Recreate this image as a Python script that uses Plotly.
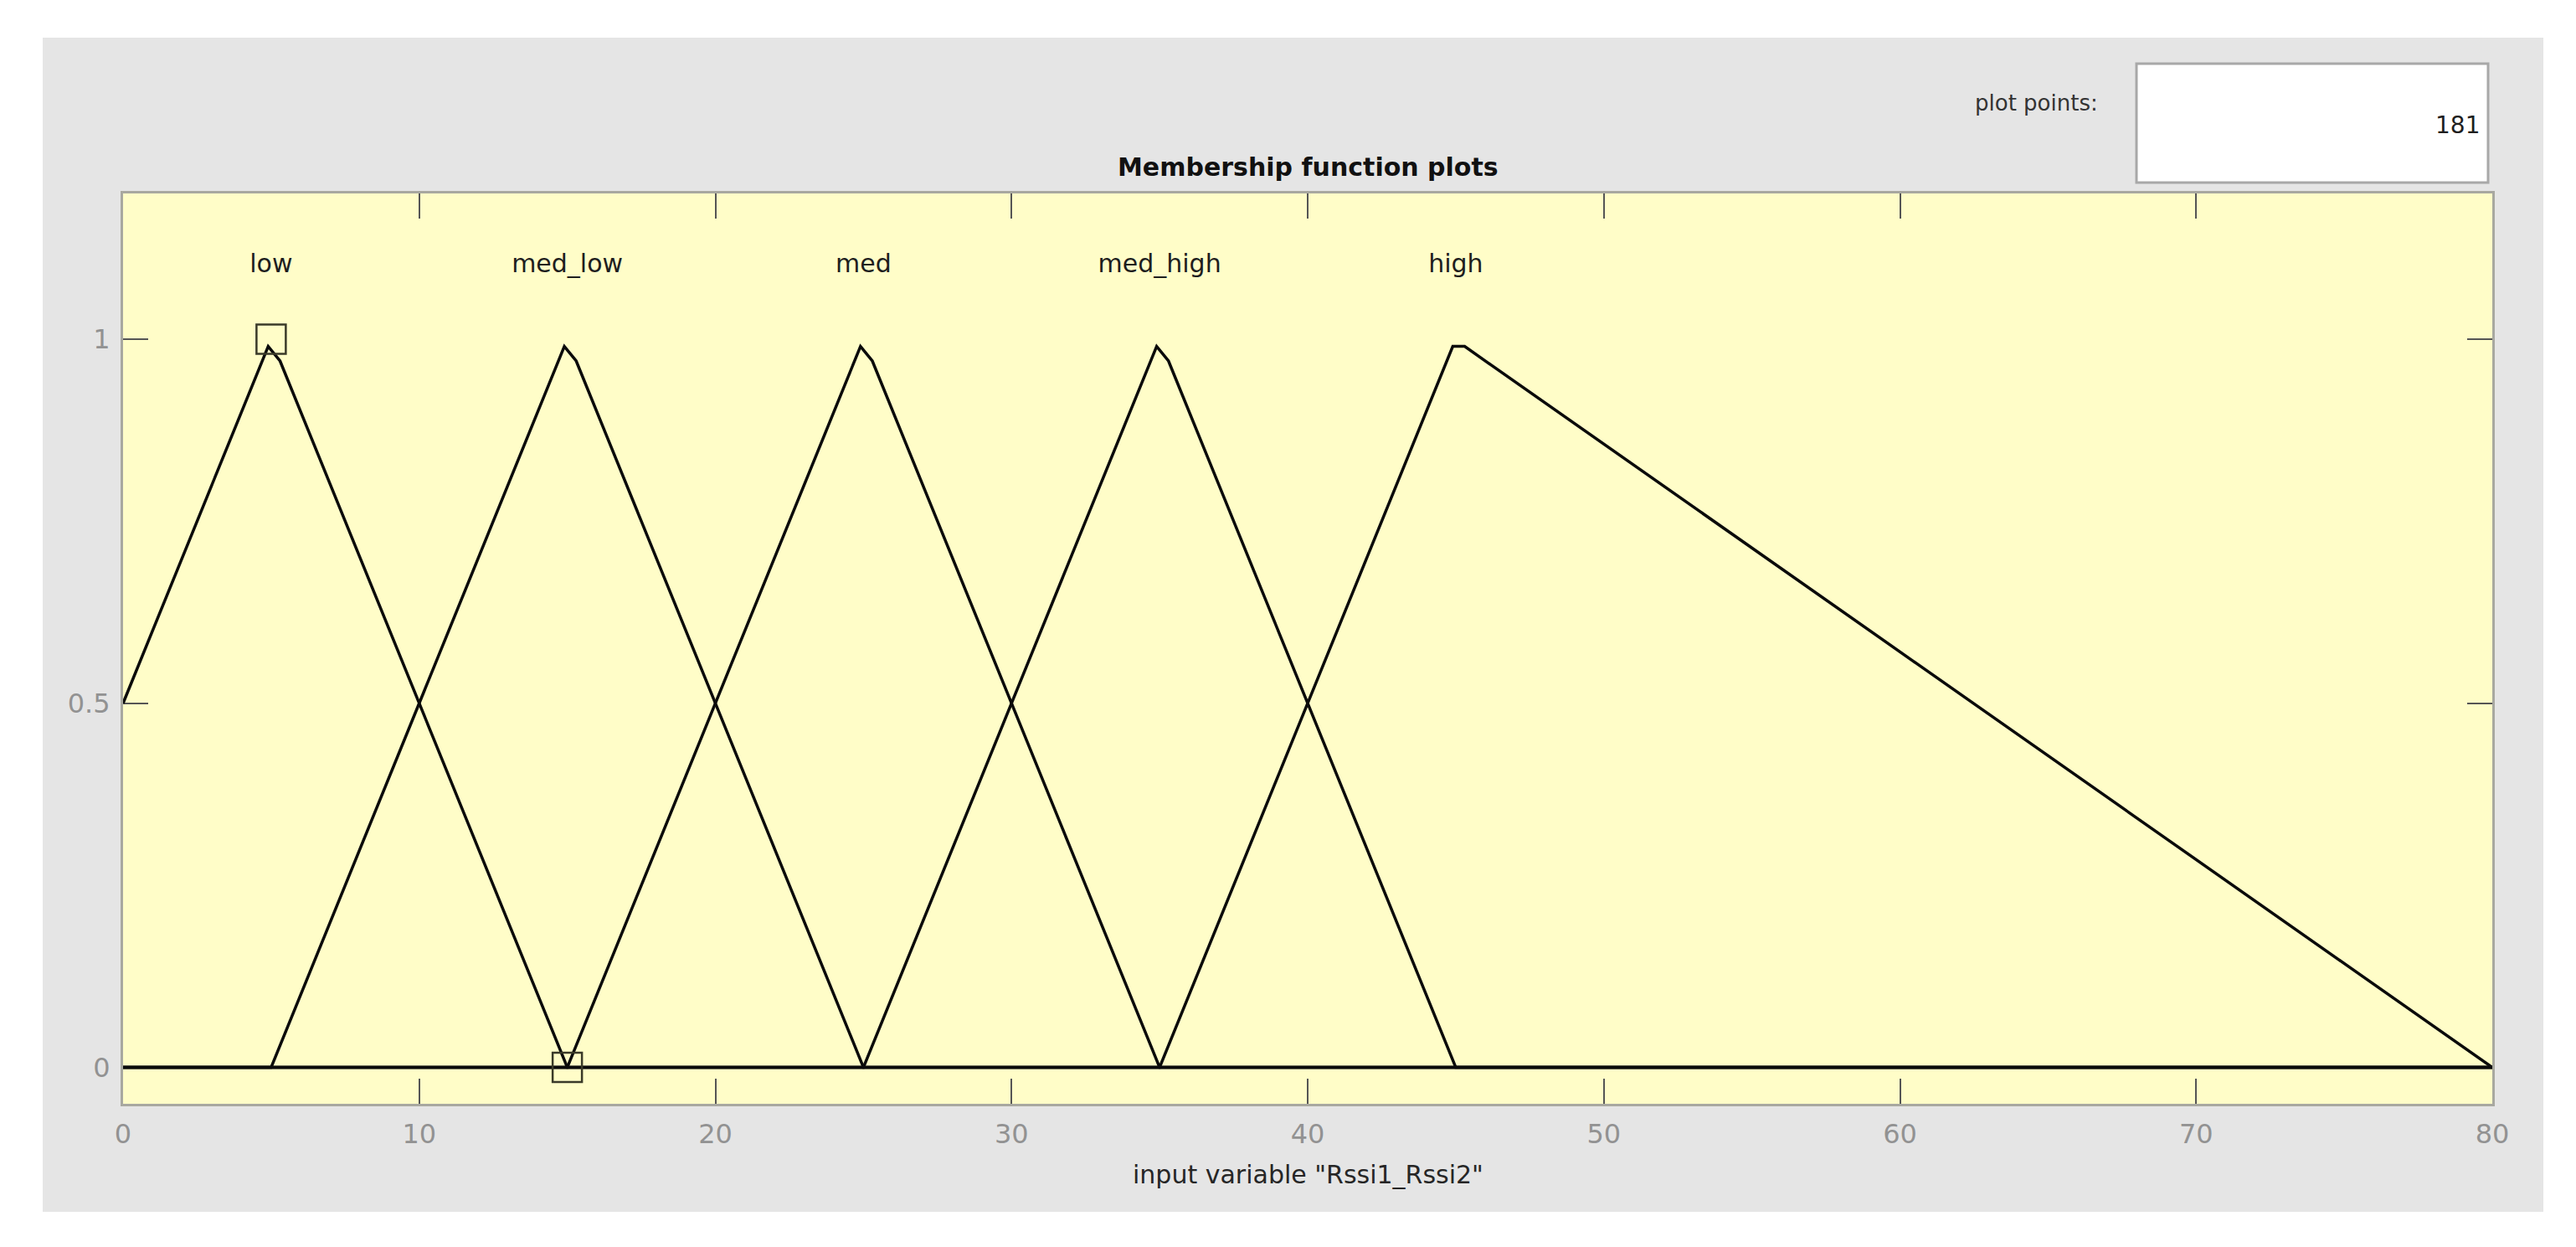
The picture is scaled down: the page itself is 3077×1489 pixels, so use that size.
#!/usr/bin/env python
# -*- coding: utf-8 -*-
"""
Membership function plot for input variable Rssi1_Rssi2 (fuzzy editor look)
"""

import plotly.graph_objects as go

# Membership functions, vertices (181 plot points)
MF_NAMES = ['low', 'med_low', 'med', 'med_high', 'high']
LOW_X = [0, 4.9, 5.3, 15, 80]
LOW_Y = [0.5, 0.99, 0.97, 0, 0]
MED_LOW_X = [0, 5, 14.9, 15.3, 25, 80]
MED_LOW_Y = [0, 0, 0.99, 0.97, 0, 0]
MED_X = [0, 15, 24.9, 25.3, 35, 80]
MED_Y = [0, 0, 0.99, 0.97, 0, 0]
MED_HIGH_X = [0, 25, 34.9, 35.3, 45, 80]
MED_HIGH_Y = [0, 0, 0.99, 0.97, 0, 0]
HIGH_X = [0, 35, 44.9, 45.3, 80]
HIGH_Y = [0, 0, 0.99, 0.99, 0]

# label positions (peaks) and the two selected points shown as squares
LABEL_X = [5, 15, 25, 35, 45]
LABEL_Y = [1.1, 1.1, 1.1, 1.1, 1.1]
SELECTED_X = [5, 15]
SELECTED_Y = [1, 0]

X_TICKS = [0, 10, 20, 30, 40, 50, 60, 70, 80]
Y_TICKS = [0, 0.5, 1]
Y_TICK_TEXT = ['0', '0.5', '1']
X_LABEL = 'input variable "Rssi1_Rssi2"'
TITLE = 'Membership function plots'
PLOT_POINTS = '181'

W, H = 3077, 1489
M_L, M_R, M_T, M_B = 147, 100, 231, 171
PLOT_W = W - M_L - M_R
PLOT_H = H - M_T - M_B


def px_x(px):
    return (px - M_L) / PLOT_W


def px_y(py):
    return (H - M_B - py) / PLOT_H


TICK_FONT = {'family': 'DejaVu Sans', 'size': 32, 'color': '#929292'}
TEXT_FONT = {'family': 'DejaVu Sans', 'size': 30, 'color': '#1e1e1e'}

fig = go.Figure()
for xs, ys in [(LOW_X, LOW_Y), (MED_LOW_X, MED_LOW_Y), (MED_X, MED_Y),
               (MED_HIGH_X, MED_HIGH_Y), (HIGH_X, HIGH_Y)]:
    fig.add_trace(go.Scatter(x=xs, y=ys, mode='lines',
                             line={'color': '#0a0a0a', 'width': 3.5},
                             hoverinfo='skip', showlegend=False))

fig.add_trace(go.Scatter(x=LABEL_X, y=LABEL_Y, mode='text', text=MF_NAMES,
                         textfont=TEXT_FONT, textposition='middle center',
                         hoverinfo='skip', showlegend=False))
fig.add_trace(go.Scatter(x=SELECTED_X, y=SELECTED_Y, mode='markers',
                         marker={'symbol': 'square-open', 'size': 35,
                                 'color': '#3a3a28', 'line': {'width': 2.5}},
                         hoverinfo='skip', showlegend=False))

shapes = [
    # grey figure panel
    dict(type='rect', xref='paper', yref='paper', layer='below',
         x0=px_x(51), x1=px_x(3038), y0=px_y(1447), y1=px_y(45),
         fillcolor='#e5e5e5', line={'width': 0}),
    # yellow axes background
    dict(type='rect', xref='paper', yref='paper', layer='below',
         x0=0, x1=1, y0=0, y1=1, fillcolor='#fffdc8', line={'width': 0}),
    # "plot points" edit box
    dict(type='rect', xref='paper', yref='paper', layer='below',
         x0=px_x(2552), x1=px_x(2972), y0=px_y(218), y1=px_y(76),
         fillcolor='white', line={'color': '#a8a8a8', 'width': 3}),
]

annotations = [
    dict(text=f'<b>{TITLE}</b>', xref='paper', yref='paper', x=0.5, y=px_y(200),
         showarrow=False, xanchor='center', yanchor='middle',
         font={'family': 'DejaVu Sans', 'size': 30, 'color': '#111111'}),
    dict(text=X_LABEL, xref='paper', yref='paper', x=0.5, y=px_y(1402),
         showarrow=False, xanchor='center', yanchor='middle',
         font={'family': 'DejaVu Sans', 'size': 30, 'color': '#262626'}),
    dict(text='plot points:', xref='paper', yref='paper', x=px_x(2508), y=px_y(123),
         showarrow=False, xanchor='right', yanchor='middle',
         font={'family': 'DejaVu Sans', 'size': 26, 'color': '#333333'}),
    dict(text=PLOT_POINTS, xref='paper', yref='paper', x=px_x(2964), y=px_y(150),
         showarrow=False, xanchor='right', yanchor='middle',
         font={'family': 'DejaVu Sans', 'size': 28, 'color': '#1e1e1e'}),
]

axis_common = dict(showgrid=False, zeroline=False, showline=True, mirror='ticks',
                   linecolor='#a8a8a0', linewidth=3, ticks='inside', ticklen=30,
                   tickwidth=1.5, tickcolor='#555555', tickfont=TICK_FONT,
                   layer='below traces', fixedrange=True)

fig.update_layout(width=W, height=H,
                  margin={'l': M_L, 'r': M_R, 't': M_T, 'b': M_B, 'pad': 0},
                  paper_bgcolor='white',
                  plot_bgcolor='rgba(0,0,0,0)',
                  xaxis=dict(range=[0, 80], tickvals=X_TICKS, ticklabelstandoff=6,
                             **axis_common),
                  yaxis=dict(range=[-0.05, 1.2], tickvals=Y_TICKS, ticktext=Y_TICK_TEXT,
                             ticklabelstandoff=6, **axis_common),
                  shapes=shapes,
                  annotations=annotations)

fig.write_html('out.html', config={'displayModeBar': False},
               post_script="document.body.style.margin='0';")
